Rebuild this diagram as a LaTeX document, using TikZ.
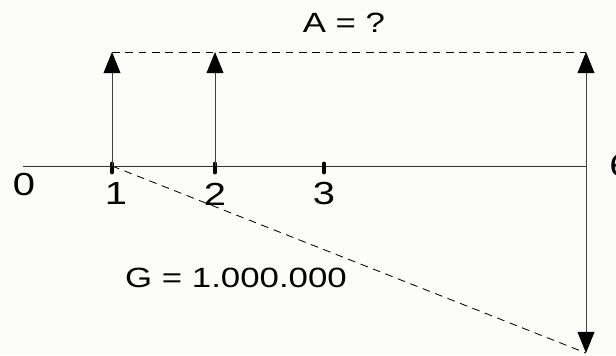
\documentclass[tikz,border=0pt]{standalone}
\usepackage{fontspec}
\setmainfont{Liberation Sans}
\newfontfamily\ancha[FakeStretch=1.25]{Liberation Sans}
\usetikzlibrary{arrows.meta, positioning}
\definecolor{fondo}{HTML}{FCFCF8}

\begin{document}
\begin{tikzpicture}[x=0.025cm, y=-0.025cm,
        flecha/.style={line width=0.7pt, draw=black!75, >={Triangle[width=12pt, length=15pt, color=black]}},
        guia/.style={dash pattern=on 5.5pt off 4pt, line width=0.6pt},
        marca/.style={line width=3.4pt, line cap=round},
        num/.style={inner sep=0pt, font=\ancha\fontsize{22.7}{26}\selectfont},
        texto/.style={inner sep=0pt, font=\ancha\fontsize{19.8}{23}\selectfont}]
    \fill[fondo] (0,0) rectangle (616,355);
    \useasboundingbox (0,0) rectangle (616,355);
    % eje de tiempo
    \coordinate (p0) at (23,166);
    \coordinate (p1) at (112,166);
    \coordinate (p2) at (215,166);
    \coordinate (p3) at (324,166);
    \coordinate (p6) at (586,166);
    \coordinate (t1) at (112,52);
    \coordinate (t2) at (215,52);
    \coordinate (t6) at (586,52);
    \coordinate (b6) at (586,353);
    \draw[line width=0.7pt, black!80] (p0) -- (p6);
    \foreach \i in {1,2,3}
        \draw[marca] (p\i) ++(0,-2) -- ++(0,8);
    \node[num] (n0) at (24,185) {0};
    \node[num] (n1) at (116,194) {1};
    \node[num] (n2) at (215,194) {2};
    \node[num] (n3) at (324,194) {3};
    \node[num, anchor=west] (n6) at (609,166) {6};
    % pagos y valor
    \draw[flecha, ->] (p1) -- (t1);
    \draw[flecha, ->] (p2) -- (t2);
    \draw[flecha, <->] (t6) -- (b6);
    \draw[guia] (t1) -- (t6);
    \draw[guia] (p1) -- (b6);
    \node[texto] (ta) at (344,23) {A = ?};
    \node[texto] (tg) at (236,278) {G = 1.000.000};
\end{tikzpicture}
\end{document}
